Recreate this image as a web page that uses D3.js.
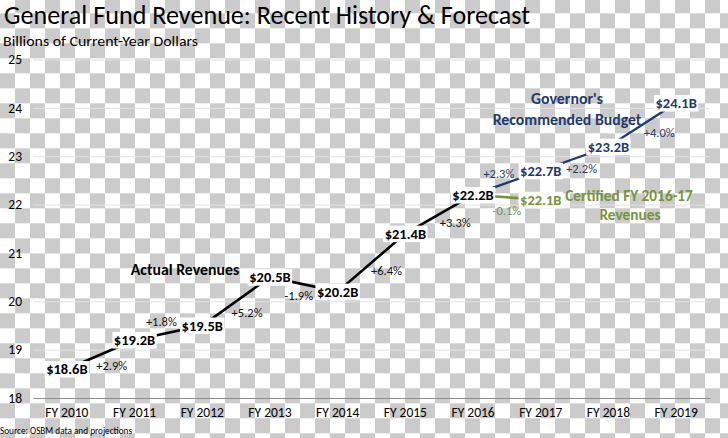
<!DOCTYPE html>
<html>
<head>
<meta charset="utf-8">
<script src="https://cdn.jsdelivr.net/npm/d3@7"></script>
<style>
  html, body { margin: 0; padding: 0; background: #fff; }
  svg { display: block; }
  text { font-family: Carlito, Calibri, Lato, "Open Sans", sans-serif; }
</style>
</head>
<body>
<svg id="chart" width="728" height="438"></svg>
<script>
// ---- data ----
const categories = ["FY 2010","FY 2011","FY 2012","FY 2013","FY 2014","FY 2015","FY 2016","FY 2017","FY 2018","FY 2019"];
const actualYears = ["FY 2010","FY 2011","FY 2012","FY 2013","FY 2014","FY 2015","FY 2016"];
const actualValues = [18.6, 19.2, 19.5, 20.5, 20.2, 21.4, 22.2];
const actualChanges = ["+2.9%","+1.8%","+5.2%","-1.9%","+6.4%","+3.3%"];
const budgetYears = ["FY 2016","FY 2017","FY 2018","FY 2019"];
const budgetValues = [22.2, 22.7, 23.2, 24.1];
const budgetChanges = ["+2.3%","+2.2%","+4.0%"];
const certifiedYears = ["FY 2016","FY 2017"];
const certifiedValues = [22.2, 22.1];
const certifiedChanges = ["-0.1%"];
const yTicks = [18, 19, 20, 21, 22, 23, 24, 25];

// ---- layout / style ----
const W = 728, H = 438;
const mLeft = 33, mRight = 710, mTop = 59.5, mBottom = 398;
const BLACK = "#000", NAVY = "#1f3a6e", GREEN = "#77933c";

const svg = d3.select("#chart");

// transparency checkerboard background
const defs = svg.append("defs");
const pat = defs.append("pattern").attr("id","checker")
  .attr("patternUnits","userSpaceOnUse").attr("width",30).attr("height",30)
  .attr("x",0).attr("y",-1.7);
pat.append("rect").attr("width",30).attr("height",30).attr("fill","#ffffff");
pat.append("rect").attr("x",15).attr("y",0).attr("width",15).attr("height",15).attr("fill","#cbcbcb");
pat.append("rect").attr("x",0).attr("y",15).attr("width",15).attr("height",15).attr("fill","#cbcbcb");
svg.append("rect").attr("width",W).attr("height",H).attr("fill","url(#checker)");

const x = d3.scaleBand().domain(categories).range([mLeft, mRight]);
const cx = c => x(c) + x.bandwidth() / 2;
const y = d3.scaleLinear().domain([18, 25]).range([mBottom, mTop]);

// gridlines
svg.append("g").attr("transform",`translate(${mLeft},0)`)
  .call(d3.axisLeft(y).tickValues(yTicks.slice(1)).tickSize(-(mRight-mLeft)).tickFormat(""))
  .call(g => g.select(".domain").remove())
  .call(g => g.selectAll("line").attr("stroke","#e2e2e2").attr("stroke-width",1));

// y tick labels
svg.append("g").attr("transform",`translate(22,0)`)
  .call(d3.axisLeft(y).tickValues(yTicks).tickSize(0).tickPadding(0).tickFormat(d3.format("d")))
  .call(g => g.select(".domain").remove())
  .call(g => g.selectAll("text").attr("font-size",13.5).attr("fill","#000")
        .style("font-family","Carlito, Calibri, Lato, sans-serif"));

// x axis
svg.append("g").attr("transform",`translate(0,${mBottom})`)
  .call(d3.axisBottom(x).tickSize(0).tickPadding(9))
  .call(g => g.select(".domain").attr("stroke","#8c8c8c").attr("stroke-width",1))
  .call(g => g.selectAll("text").attr("font-size",13.5).attr("fill","#000")
        .style("font-family","Carlito, Calibri, Lato, sans-serif"));

// titles
svg.append("text").attr("x",4).attr("y",24).attr("font-size",26).attr("fill","#000")
  .attr("textLength",526).attr("lengthAdjust","spacingAndGlyphs")
  .text("General Fund Revenue: Recent History & Forecast");
svg.append("text").attr("x",3).attr("y",46).attr("font-size",14.5).attr("fill","#000")
  .attr("textLength",195).attr("lengthAdjust","spacingAndGlyphs")
  .text("Billions of Current-Year Dollars");
svg.append("text").attr("x",0).attr("y",433.5).attr("font-size",10.5).attr("fill","#000")
  .attr("textLength",132).attr("lengthAdjust","spacingAndGlyphs")
  .text("Source: OSBM data and projections");

// lines
const line = d3.line().x(d => cx(d[0])).y(d => y(d[1]));
function series(years, vals, color, width) {
  const pts = years.map((c, i) => [c, vals[i]]);
  svg.append("path").datum(pts).attr("d", line).attr("fill","none")
    .attr("stroke", color).attr("stroke-width", width);
  return pts;
}
const aPts = series(actualYears, actualValues, BLACK, 2.6);
const bPts = series(budgetYears, budgetValues, NAVY, 2.3);
const cPts = series(certifiedYears, certifiedValues, GREEN, 2.6);

// percent change labels (offsets from segment midpoints)
function changes(pts, labels, offsets, color) {
  labels.forEach((t, i) => {
    const mx = (cx(pts[i][0]) + cx(pts[i+1][0])) / 2;
    const my = (y(pts[i][1]) + y(pts[i+1][1])) / 2;
    svg.append("text").attr("x", mx + offsets[i][0]).attr("y", my + offsets[i][1])
      .attr("dy","0.35em").attr("text-anchor","middle").attr("font-size",12.5)
      .attr("fill", color).text(t);
  });
}
changes(aPts, actualChanges, [[11,11],[-7,-11],[11,11],[-5,11],[15,8],[16,8]], "#111");
changes(bPts, budgetChanges, [[-8,-9],[7,10],[17,8]], NAVY);
changes(cPts, certifiedChanges, [[0,13]], GREEN);

// value labels with white boxes
function valueLabel(c, v, color) {
  const g = svg.append("g");
  const t = g.append("text").attr("x", cx(c)).attr("y", y(v)).attr("dy","0.35em")
    .attr("text-anchor","middle").attr("font-size",14.5).attr("font-weight","bold")
    .attr("fill", color).text("$" + v.toFixed(1) + "B");
  const bb = t.node().getBBox();
  g.insert("rect","text").attr("x", bb.x - 1.5).attr("y", bb.y + 1)
    .attr("width", bb.width + 3).attr("height", bb.height - 1.5).attr("fill","#fff");
}
actualYears.forEach((c, i) => valueLabel(c, actualValues[i], "#000"));
budgetYears.slice(1).forEach((c, i) => valueLabel(c, budgetValues[i+1], NAVY));
certifiedYears.slice(1).forEach((c, i) => valueLabel(c, certifiedValues[i+1], GREEN));

// annotations
svg.append("text").attr("x",185).attr("y",269).attr("dy","0.35em").attr("text-anchor","middle")
  .attr("font-size",15.8).attr("font-weight","bold").attr("fill","#000").text("Actual Revenues");
svg.append("text").attr("x",567).attr("y",98).attr("dy","0.35em").attr("text-anchor","middle")
  .attr("font-size",15.8).attr("font-weight","bold").attr("fill",NAVY).text("Governor's");
svg.append("text").attr("x",567).attr("y",119).attr("dy","0.35em").attr("text-anchor","middle")
  .attr("font-size",15.8).attr("font-weight","bold").attr("fill",NAVY).text("Recommended Budget");
svg.append("text").attr("x",629).attr("y",196).attr("dy","0.35em").attr("text-anchor","middle")
  .attr("font-size",15.3).attr("font-weight","bold").attr("fill",GREEN).text("Certified FY 2016-17");
svg.append("text").attr("x",630).attr("y",215).attr("dy","0.35em").attr("text-anchor","middle")
  .attr("font-size",15.3).attr("font-weight","bold").attr("fill",GREEN).text("Revenues");
</script>
</body>
</html>
